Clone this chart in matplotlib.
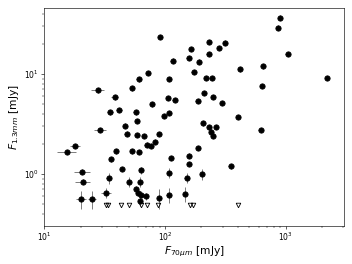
import matplotlib
matplotlib.use("Agg")
import matplotlib.pyplot as plt

# detections: 70 micron flux vs 1.3 mm flux [mJy]
f70 = [90.6, 115.4, 72.0, 60.3, 107.9, 53.4, 27.7, 38.2, 106.1, 119.9,
       78.2, 34.9, 41.4, 57.0, 58.7, 97.7, 107.9, 46.9, 29.1, 231.9,
       312.9, 163.6, 280.6, 229.3, 156.6, 190.5, 172.2, 416.6, 650.0, 219.0,
       245.6, 640.0, 210.8, 185.9, 250.3, 295.5, 404.8, 205.6, 231.9, 266.0,
       618.0, 893.0, 857.0, 1035.0, 2203.0, 239.5, 248.9, 187.0, 159.0, 157.4,
       349.0, 203.0, 18.1, 15.5, 39.1, 35.4, 20.6, 34.0, 20.8, 32.5,
       20.3, 25.0, 48.0, 58.9, 67.4, 89.7, 82.3, 70.3, 76.0, 53.4,
       60.7, 111.7, 43.9, 63.6, 107.5, 150.7, 50.4, 61.8, 57.1, 59.5,
       63.0, 69.0, 62.4, 89.2, 106.9, 145.9]
f13 = [23.3, 13.6, 10.2, 8.80, 8.85, 7.16, 6.84, 5.82, 5.79, 5.50,
       4.95, 4.14, 4.35, 4.12, 3.40, 3.78, 4.07, 3.05, 2.75, 20.7,
       20.6, 17.8, 18.3, 15.8, 14.5, 13.3, 10.5, 11.1, 11.9, 9.12,
       9.06, 7.59, 6.46, 5.37, 5.93, 5.13, 3.72, 3.21, 2.95, 2.95,
       2.75, 36.6, 29.0, 15.8, 9.18, 2.63, 2.40, 1.82, 1.53, 1.27,
       1.19, 0.99, 1.91, 1.65, 1.68, 1.40, 1.05, 0.91, 0.84, 0.646,
       0.56, 0.56, 2.53, 2.44, 2.39, 2.50, 2.11, 1.97, 1.91, 1.68,
       1.66, 1.44, 1.12, 1.09, 1.03, 0.92, 0.84, 0.84, 0.71, 0.646,
       0.62, 0.60, 0.54, 0.575, 0.62, 0.63]
f70_err = [3.6, 4.6, 2.9, 2.4, 4.3, 2.1, 3.3, 2.3, 4.2, 4.8,
           3.1, 2.1, 2.5, 2.3, 2.3, 3.9, 4.3, 1.9, 3.5, 9.3,
           12.5, 6.5, 11.2, 9.2, 6.3, 7.6, 6.9, 16.7, 26.0, 8.8,
           9.8, 25.6, 8.4, 7.4, 10.0, 11.8, 16.2, 8.2, 9.3, 10.6,
           24.7, 35.7, 34.3, 41.4, 88.1, 9.6, 10.0, 7.5, 6.4, 6.3,
           14.0, 8.1, 1.8, 2.8, 1.6, 1.4, 3.1, 1.4, 2.9, 2.9,
           2.0, 2.0, 1.9, 2.4, 2.7, 3.6, 3.3, 2.8, 3.0, 2.1,
           2.4, 4.5, 1.8, 2.5, 4.3, 6.0, 2.0, 2.5, 2.3, 2.4,
           2.5, 2.8, 2.5, 3.6, 4.3, 5.8]
f13_err = [1.2, 0.7, 0.5, 0.44, 0.44, 0.36, 0.34, 0.29, 0.29, 0.28,
           0.25, 0.21, 0.22, 0.21, 0.17, 0.19, 0.2, 0.15, 0.14, 1.0,
           1.0, 0.9, 0.9, 0.8, 0.7, 0.7, 0.5, 0.6, 0.6, 0.46,
           0.45, 0.38, 0.32, 0.27, 0.3, 0.26, 0.19, 0.16, 0.15, 0.15,
           0.14, 1.8, 1.5, 0.8, 0.46, 0.13, 0.12, 0.09, 0.08, 0.06,
           0.06, 0.12, 0.1, 0.08, 0.08, 0.07, 0.06, 0.11, 0.05, 0.07,
           0.11, 0.11, 0.13, 0.12, 0.12, 0.13, 0.11, 0.1, 0.1, 0.08,
           0.08, 0.07, 0.06, 0.08, 0.12, 0.11, 0.10, 0.10, 0.05, 0.05,
           0.05, 0.05, 0.06, 0.13, 0.11, 0.11]

# 1.3 mm upper limits
f70_ul = [32.3, 33.9, 42.8, 50.4, 62.7, 71.3, 87.1, 160.6, 169.0, 405.0]
f13_ul = [0.485, 0.485, 0.485, 0.485, 0.485, 0.485, 0.485, 0.485, 0.485, 0.485]


fig = plt.figure(figsize=(6.4, 4.8), dpi=55)
ax = fig.add_axes([0.126, 0.145, 0.852, 0.825])

ax.errorbar(f70, f13, xerr=f70_err, yerr=f13_err, fmt="o", color="k",
            ecolor="gray", ms=7, elinewidth=1.3, capsize=0)
ax.plot(f70_ul, f13_ul, ls="none", marker="v", mfc="none", mec="k",
        ms=6, mew=1.1)

ax.set_xscale("log")
ax.set_yscale("log")
ax.set_xlim(10, 3050)
ax.set_ylim(0.304, 45.7)
ax.set_xlabel(r"$F_{70\mu m}$ [mJy]", fontsize=14, labelpad=1)
ax.set_ylabel(r"$F_{1.3mm}$ [mJy]", fontsize=14)

fig.savefig("out.png", dpi=55)
